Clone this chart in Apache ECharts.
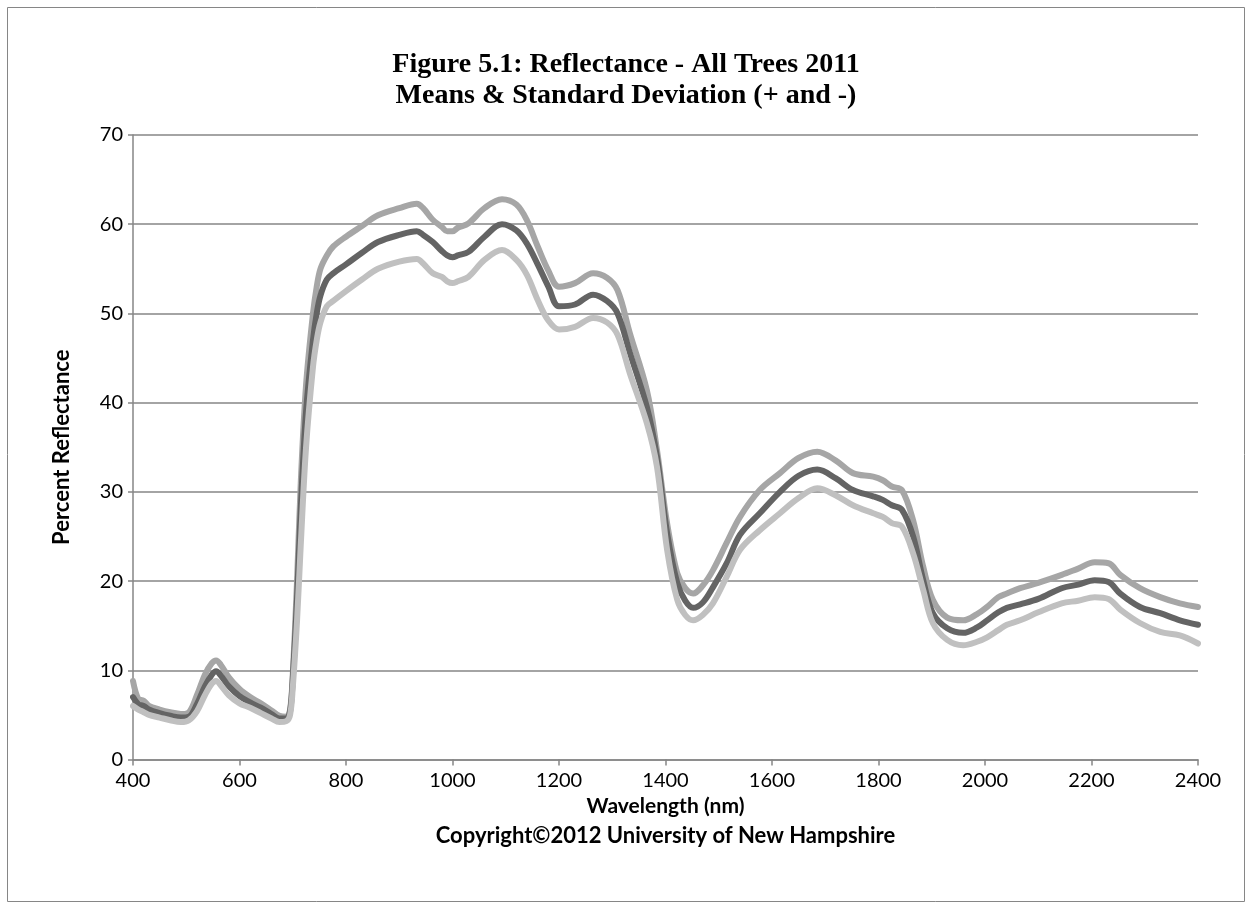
<!DOCTYPE html>
<html>
<head>
<meta charset="utf-8">
<script src="https://cdn.jsdelivr.net/npm/echarts@6/dist/echarts.min.js"></script>
<style>
  html, body { margin: 0; padding: 0; background: #fff; }
  #chart { width: 1252px; height: 909px; }
</style>
</head>
<body>
<div id="chart"></div>
<script>
// wavelength (nm), shared by the three curves
const wavelength = [400, 410, 420, 430, 450, 470, 490, 505, 520, 535, 548, 556, 565, 580, 600, 620, 640, 660, 675, 688,
  695, 700, 708, 715, 725, 738, 745, 752, 764, 776, 800, 830, 860, 900, 933, 945, 963, 980, 990, 1000,
  1010, 1030, 1060, 1093, 1120, 1140, 1160, 1180, 1200, 1230, 1264, 1290, 1310, 1333, 1365, 1384, 1403, 1422, 1437, 1452,
  1470, 1489, 1515, 1540, 1577, 1615, 1650, 1685, 1720, 1752, 1790, 1808, 1825, 1844, 1865, 1884, 1902, 1929, 1959, 1985,
  2004, 2025, 2041, 2066, 2100, 2144, 2175, 2206, 2232, 2254, 2291, 2329, 2366, 2400];

const meanVals = [7.0, 6.2, 6.0, 5.6, 5.2, 4.9, 4.7, 4.8, 6.2, 8.2, 9.5, 9.9, 9.4, 8.2, 7.1, 6.4, 5.8, 5.1, 4.6, 4.6,
  5.4, 9, 18, 28, 39, 47, 50, 52, 53.8, 54.5, 55.5, 56.8, 58, 58.8, 59.2, 58.8, 58, 57, 56.5, 56.3,
  56.5, 56.9, 58.6, 60.0, 59.3, 57.8, 55.5, 53, 50.8, 51, 52.1, 51.4, 50, 45.6, 39.5, 33.9, 25.4, 19.8, 17.8, 17.0,
  17.6, 19.3, 22, 25.2, 27.6, 30, 31.8, 32.5, 31.5, 30.2, 29.5, 29.1, 28.5, 28, 25, 20.1, 16.4, 14.7, 14.2, 14.8,
  15.6, 16.5, 17, 17.4, 18, 19.2, 19.6, 20.1, 19.9, 18.6, 17.1, 16.4, 15.6, 15.1];

const plusSd = [8.8, 6.8, 6.6, 6.0, 5.6, 5.3, 5.1, 5.3, 7.2, 9.5, 10.8, 11.1, 10.6, 9.2, 7.9, 7.0, 6.3, 5.5, 4.9, 4.8,
  5.6, 9.5, 20, 31, 42, 50, 53, 55, 56.5, 57.5, 58.6, 59.8, 61, 61.8, 62.3, 61.8, 60.5, 59.7, 59.2, 59.2,
  59.6, 60.1, 61.8, 62.8, 62.2, 60.4, 57.5, 54.8, 53, 53.4, 54.5, 54, 52.6, 47.8, 41.4, 34.7, 26.5, 20.9, 19.2, 18.6,
  19.5, 21.2, 24.3, 27.2, 30.2, 32.1, 33.8, 34.5, 33.5, 32.1, 31.7, 31.3, 30.6, 30.2, 26.8, 21.6, 17.9, 15.9, 15.6, 16.3,
  17.1, 18.2, 18.6, 19.2, 19.8, 20.7, 21.4, 22.1, 22, 20.7, 19.2, 18.2, 17.5, 17.1];

const minusSd = [6.0, 5.6, 5.3, 5.0, 4.7, 4.4, 4.2, 4.4, 5.4, 7.2, 8.5, 8.8, 8.3, 7.2, 6.3, 5.8, 5.2, 4.6, 4.2, 4.3,
  5.0, 8, 15.5, 24, 35, 44, 47, 49, 50.8, 51.4, 52.5, 53.8, 55, 55.8, 56.1, 55.6, 54.5, 54.1, 53.6, 53.4,
  53.6, 54.1, 56, 57.1, 56, 54.3, 51.5, 49.2, 48.2, 48.5, 49.5, 49, 47.6, 43.3, 37.7, 32.8, 23.5, 17.9, 16.2, 15.6,
  16.2, 17.5, 20.5, 23.5, 25.7, 27.6, 29.3, 30.4, 29.6, 28.5, 27.6, 27.2, 26.5, 26.1, 23.1, 19, 15.3, 13.4, 12.8, 13.2,
  13.7, 14.5, 15.1, 15.6, 16.5, 17.5, 17.8, 18.2, 18, 16.8, 15.3, 14.3, 13.9, 13];

const pair = vals => wavelength.map((w, i) => [w, vals[i]]);

const AX = '#868686';
const labelFont = 'Lato, "Open Sans", sans-serif';

const chart = echarts.init(document.getElementById('chart'), null, { renderer: 'canvas' });

function line(name, vals, color) {
  return {
    name: name,
    type: 'line',
    data: pair(vals),
    smooth: 0.35,
    showSymbol: false,
    lineStyle: { color: color, width: 6, cap: 'round', join: 'round' },
    itemStyle: { color: color },
    z: 3
  };
}

chart.setOption({
  animation: false,
  backgroundColor: '#fff',
  title: {
    text: 'Figure 5.1: Reflectance - All Trees 2011\nMeans & Standard Deviation (+ and -)',
    left: 'center',
    top: 44,
    textStyle: {
      fontFamily: '"Liberation Serif", "Times New Roman", serif',
      fontWeight: 'bold',
      fontSize: 28,
      lineHeight: 31,
      color: '#000'
    }
  },
  graphic: [
    {
      type: 'rect',
      shape: { x: 7.5, y: 7.5, width: 1237, height: 894 },
      style: { fill: 'none', stroke: AX, lineWidth: 1 },
      silent: true
    },
    {
      // centred under the plot area, like the axis title
      type: 'text',
      x: 665.5,
      y: 836,
      style: {
        text: 'Copyright©2012 University of New Hampshire',
        font: 'bold 22px ' + labelFont,
        fill: '#000',
        align: 'center',
        verticalAlign: 'middle'
      }
    }
  ],
  grid: { left: 133, right: 54, top: 135, bottom: 149.5 },
  xAxis: {
    type: 'value',
    min: 400,
    max: 2400,
    interval: 200,
    name: 'Wavelength (nm)',
    nameLocation: 'middle',
    nameGap: 33,
    nameTextStyle: { fontFamily: labelFont, fontWeight: 'bold', fontSize: 21, color: '#000' },
    axisLine: { show: true, lineStyle: { color: AX, width: 1.5 } },
    axisTick: { show: true, length: 6, lineStyle: { color: AX, width: 1.5 } },
    axisLabel: { fontFamily: labelFont, fontSize: 20, color: '#000', margin: 11, formatter: v => String(v) },
    splitLine: { show: false }
  },
  yAxis: {
    type: 'value',
    min: 0,
    max: 70,
    interval: 10,
    name: 'Percent Reflectance',
    nameLocation: 'middle',
    nameGap: 60,
    nameRotate: 90,
    nameTextStyle: { fontFamily: labelFont, fontWeight: 'bold', fontSize: 22, color: '#000' },
    axisLine: { show: true, lineStyle: { color: AX, width: 1.5 } },
    axisTick: { show: true, length: 5, lineStyle: { color: AX, width: 1.5 } },
    axisLabel: { fontFamily: labelFont, fontSize: 20, color: '#000', margin: 10 },
    splitLine: { show: true, lineStyle: { color: AX, width: 1.5 } }
  },
  series: [
    line('Mean + SD', plusSd, '#A6A6A6'),
    line('Mean', meanVals, '#646464'),
    line('Mean - SD', minusSd, '#C0C0C0')
  ]
});
</script>
</body>
</html>
